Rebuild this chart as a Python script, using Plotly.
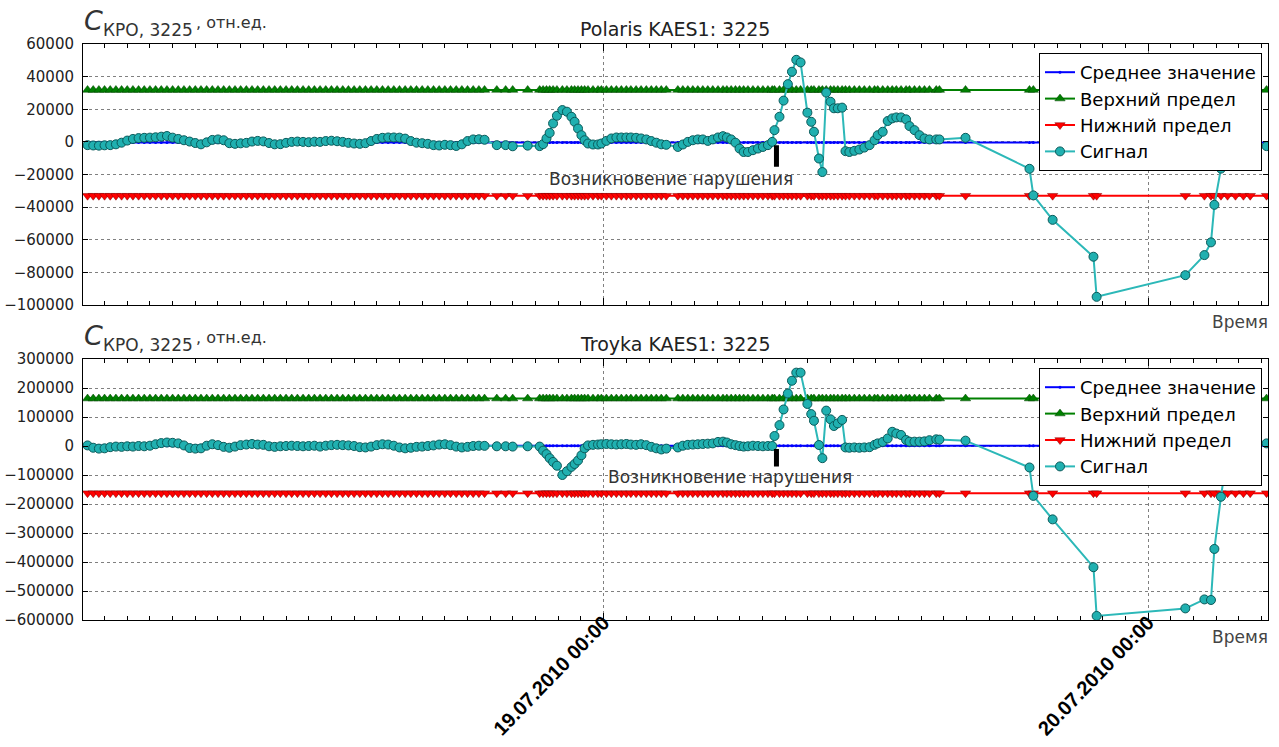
import plotly.graph_objects as go
import pandas as pd

# ---------------- data ----------------
hours = [1.25, 1.5, 1.75, 2.0, 2.25, 2.5, 2.75, 3.0, 3.25, 3.5, 3.75, 4.0, 4.25, 4.5, 4.75, 5.0,
         5.25, 5.5, 5.75, 6.0, 6.25, 6.5, 6.75, 7.0, 7.25, 7.5, 7.75, 8.0, 8.25, 8.5, 8.75, 9.0,
         9.25, 9.5, 9.75, 10.0, 10.25, 10.5, 10.75, 11.0, 11.25, 11.5, 11.75, 12.0, 12.25, 12.5,
         12.75, 13.0, 13.25, 13.5, 13.75, 14.0, 14.25, 14.5, 14.75, 15.0, 15.25, 15.5, 15.75, 16.0,
         16.25, 16.5, 16.75, 17.0, 17.25, 17.5, 17.75, 18.0, 18.25, 18.5, 18.75,
         19.29, 19.68, 19.99, 20.65,
         21.18, 21.33, 21.48, 21.62, 21.77, 21.94, 22.18, 22.38, 22.58, 22.72, 22.87, 23.02, 23.16,
         23.31, 23.53, 23.75, 23.9, 24.12, 24.34, 24.56, 24.78, 25.0, 25.2, 25.43, 25.65, 25.88,
         26.1, 26.32, 26.54, 26.76,
         27.27, 27.49, 27.71, 27.93, 28.15, 28.37, 28.59, 28.81, 29.04, 29.26, 29.43, 29.62, 29.81,
         29.99, 30.17, 30.36, 30.58, 30.8, 31.02, 31.24, 31.43,
         31.53, 31.75, 31.93, 32.12, 32.3, 32.49, 32.68, 32.98, 33.15, 33.27, 33.49, 33.64, 33.81,
         34.0, 34.15, 34.32, 34.51,
         34.66, 34.83, 35.05, 35.27, 35.49, 35.72, 35.94, 36.08, 36.3, 36.52, 36.72, 36.9, 37.11,
         37.33, 37.48, 37.7, 37.92, 38.14, 38.36, 38.66, 38.8,
         39.95, 42.77, 42.94, 43.79, 45.59, 45.73, 49.64, 50.48, 50.77, 50.92, 51.21, 51.5, 51.85,
         52.2, 52.5, 53.22]

signal_top = [-2000, -2200, -2300, -2100, -2000, -1500, -500, 800, 1800, 2300,
              2500, 2600, 2800, 3200, 3600, 2600, 1800, 1000, 200, -700,
              -1500, -300, 1200, 1500, 1000, -800, -1200, -900, -600, 200,
              600, 300, -700, -1500, -1400, -600, 0, 200, 0, -200,
              100, 0, 500, 700, 400, 0, -600, -1000, -1200, -800,
              500, 1800, 2500, 2700, 2700, 2600, 2000, 500, -500, -800,
              -1200, -2000, -2200, -1800, -2000, -2500, -1500, 500, 1500, 1600, 1300,
              -2000, -2000, -2700, -2300,
              -2600, -1400, 2100, 5500, 11300, 16000, 19500, 18500, 15400, 12300, 8200, 4100, 1000,
              -1000, -1600, -1600, -1000, 600, 2100, 2700, 2700, 2700, 2700, 2500, 2100, 1500,
              500, -500, -1500, -1800,
              -3100, -1600, 0, 1000, 1500, 1500, 600, 1500, 2700, 3500, 2700, 1500, -500,
              -4100, -6200, -6200, -5100, -4100, -3100, -2000, 0,
              7200, 15400, 25300, 35400, 43000, 50300, 48700, 17900, 12300, 6200, -10200, -18500, 30200,
              24600, 20600, 20600, 21000,
              -5700, -6200, -5500, -4700, -3500, -2000, 1000, 4100, 6200, 12800, 14400, 15000, 15000,
              13800, 9700, 7200, 4100, 2100, 1500, 1500, 1500,
              2500, -16500, -32800, -47800, -70400, -95000, -81700, -69400, -61600, -38600, -16400, -2000, 1000,
              0, -1000, -2600]

signal_bottom = [2000, -6000, -9000, -8000, -4000, -2000, -3000, -1000, -2000, 0,
                 -1000, 1000, 6000, 10000, 12000, 11000, 9000, 2000, -7000, -9000,
                 -8000, 1000, 6000, 3000, -3000, -6000, -2000, 3000, 5000, 7000,
                 5000, 4000, -1000, -3000, -1000, 0, 1000, 0, -1000, 0,
                 1000, -2000, 1000, 3000, 4000, 3000, 2000, 0, -4000, -5000,
                 -2000, 3000, 6000, 5000, 1000, -5000, -8000, -6000, -3000, -2000,
                 0, 2000, 5000, 6000, 3000, -2000, -5000, -3000, 0, 1000, 500,
                 -1000, -1000, -2000, -1000,
                 -2000, -16000, -28000, -42000, -55000, -68000, -100000, -87000, -72000, -62000, -50000,
                 -32000, -8000, 2000, 4000, 5000, 6000, 7000, 6000, 5000, 6000, 7000, 5000, 4000, 6000,
                 3000, -3000, -8000, -12000, -9000,
                 -5000, 1000, 4000, 5000, 6000, 7000, 8000, 9000, 14000, 15000, 12000, 6000, 3000,
                 0, -2000, -1000, 1000, 0, -1000, 0, 0,
                 34500, 72000, 126000, 181000, 225000, 253000, 253000, 145000, 110000, 87000, 3400,
                 -42000, 122000, 92000, 69000, 78000, 90000,
                 -5000, -6000, -5000, -6000, -5000, -4000, 4000, 9000, 14000, 26000, 49000, 43000, 38000,
                 20700, 15000, 15000, 15000, 16000, 20000, 23000, 22000,
                 18500, -74000, -172000, -253000, -418000, -586000, -560000, -529000, -531000, -355000,
                 -175000, -20000, 0, 0, 0, 9000]

mean_top, upper_top, lower_top = -400, 31800, -33000
mean_bottom, upper_bottom, lower_bottom = 500, 163500, -162500

titles = ["Polaris KAES1: 3225", "Troyka KAES1: 3225"]
legend_names = ["Среднее значение", "Верхний предел", "Нижний предел", "Сигнал"]
event_time = "2010-07-19 07:37"
event_text = "Возникновение нарушения"
x_range = ["2010-07-18 01:03", "2010-07-20 05:17"]

# ---------------- build ----------------
base = pd.Timestamp("2010-07-18 00:00")
t = [base + pd.Timedelta(hours=h) for h in hours]

W, H = 1279, 747
def px(x):
    return x / W
def py(y):
    return 1 - y / H

fig = go.Figure()

def add_panel(xa, ya, legend, mean, upper, lower, sig):
    n = len(t)
    fig.add_trace(go.Scatter(x=t, y=[mean] * n, mode="lines+markers", name=legend_names[0],
                             line=dict(color="#0000ff", width=2),
                             marker=dict(symbol="circle", size=3, color="#0000ff"),
                             xaxis=xa, yaxis=ya, legend=legend))
    fig.add_trace(go.Scatter(x=t, y=[upper] * n, mode="lines+markers", name=legend_names[1],
                             line=dict(color="#008000", width=2),
                             marker=dict(symbol="triangle-up", size=9, color="#008000",
                                         line=dict(color="#004000", width=0.5)),
                             xaxis=xa, yaxis=ya, legend=legend))
    fig.add_trace(go.Scatter(x=t, y=[lower] * n, mode="lines+markers", name=legend_names[2],
                             line=dict(color="#ff0000", width=2),
                             marker=dict(symbol="triangle-down", size=9, color="#ff0000",
                                         line=dict(color="#800000", width=0.5)),
                             xaxis=xa, yaxis=ya, legend=legend))
    fig.add_trace(go.Scatter(x=t, y=sig, mode="lines+markers", name=legend_names[3],
                             line=dict(color="#2cb8b8", width=2),
                             marker=dict(symbol="circle", size=9, color="#20b0b0",
                                         line=dict(color="#0a5a5a", width=1)),
                             xaxis=xa, yaxis=ya, legend=legend))

add_panel("x", "y", "legend", mean_top, upper_top, lower_top, signal_top)
add_panel("x2", "y2", "legend2", mean_bottom, upper_bottom, lower_bottom, signal_bottom)

xdom = [px(83), px(1268)]
common_x = dict(type="date", range=x_range, showline=True, linecolor="black", linewidth=1,
                mirror="ticks", ticks="inside", ticklen=7, tickcolor="black", automargin=False,
                tick0="2010-07-19", dtick=86400000, tickformat="%d.%m.%Y %H:%M",
                showgrid=True, gridcolor="#808080", griddash="dot", gridwidth=1, zeroline=False,
                minor=dict(dtick=3600000, ticks="inside", ticklen=4, tickcolor="black", showgrid=False),
                domain=xdom)
common_y = dict(showline=True, linecolor="black", linewidth=1, mirror="ticks", ticks="inside",
                ticklen=5, tickcolor="black", showgrid=True, gridcolor="#808080", griddash="dot",
                gridwidth=1, zeroline=False, tickformat="d", automargin=False,
                tickfont=dict(family="DejaVu Sans", size=15, color="#222"), ticklabelstandoff=5)

legend_common = dict(x=px(1262), xanchor="right", yanchor="top", bgcolor="white",
                     bordercolor="black", borderwidth=1, tracegroupgap=0,
                     font=dict(family="DejaVu Sans", size=18, color="black"))

fig.update_layout(
    width=W, height=H, margin=dict(l=0, r=0, t=0, b=0, autoexpand=False),
    paper_bgcolor="white", plot_bgcolor="white",
    xaxis=dict(common_x, anchor="y", showticklabels=False),
    yaxis=dict(common_y, anchor="x", domain=[py(305), py(44)], range=[-100000, 60000], dtick=20000),
    xaxis2=dict(common_x, anchor="y2", showticklabels=True, tickangle=-46, ticklabelstandoff=-18,
                tickfont=dict(family="Liberation Sans", size=20, color="black", weight="bold")),
    yaxis2=dict(common_y, anchor="x2", domain=[py(620), py(359)], range=[-600000, 300000], dtick=100000),
    legend=dict(legend_common, y=py(53)),
    legend2=dict(legend_common, y=py(368)),
    showlegend=True,
)

ann = []
for i, off in enumerate([0, 315]):
    ann.append(dict(text=titles[i], x=px(675), y=py(29 + off), xref="paper", yref="paper",
                    showarrow=False, xanchor="center", yanchor="middle",
                    font=dict(family="DejaVu Sans", size=19, color="#222")))
    ann.append(dict(text="<i>C</i>", x=px(93), y=py(20 + off), xref="paper", yref="paper",
                    showarrow=False, xanchor="center", yanchor="middle",
                    font=dict(family="DejaVu Sans", size=27, color="#333")))
    ann.append(dict(text="КРО, 3225", x=px(101), y=py(30 + off), xref="paper", yref="paper",
                    showarrow=False, xanchor="left", yanchor="middle",
                    font=dict(family="DejaVu Sans", size=17, color="#333")))
    ann.append(dict(text=", отн.ед.", x=px(194), y=py(22 + off), xref="paper", yref="paper",
                    showarrow=False, xanchor="left", yanchor="middle",
                    font=dict(family="DejaVu Sans", size=16, color="#333")))
    ann.append(dict(text="Время", x=px(1270), y=py(322 + off), xref="paper", yref="paper",
                    showarrow=False, xanchor="right", yanchor="middle",
                    font=dict(family="DejaVu Sans", size=17, color="#444")))

ann.append(dict(text=event_text, x=px(671), y=py(179), xref="paper", yref="paper", showarrow=False,
                xanchor="center", yanchor="middle", font=dict(family="DejaVu Sans", size=17, color="#333")))
ann.append(dict(text=event_text, x=px(730), y=py(477), xref="paper", yref="paper", showarrow=False,
                xanchor="center", yanchor="middle", font=dict(family="DejaVu Sans", size=17, color="#333")))
ann.append(dict(text="", x=event_time, y=-2000, xref="x", yref="y", showarrow=True, ax=0, ay=23,
                arrowhead=0, arrowwidth=5, arrowcolor="black", standoff=0))
ann.append(dict(text="", x=event_time, y=-10000, xref="x2", yref="y2", showarrow=True, ax=0, ay=19,
                arrowhead=0, arrowwidth=5, arrowcolor="black", standoff=0))
fig.update_layout(annotations=ann)

fig.write_html("out.html", config={"displayModeBar": False},
               post_script="document.body.style.margin='0px';document.body.style.overflow='hidden';")
